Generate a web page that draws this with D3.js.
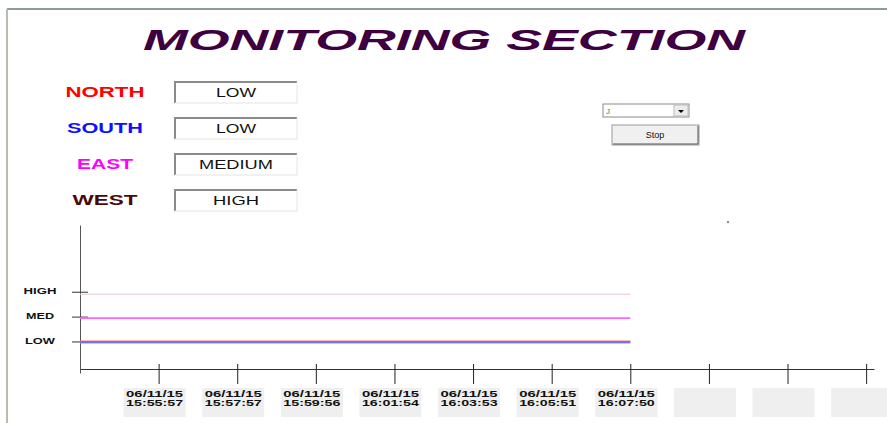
<!DOCTYPE html>
<html>
<head>
<meta charset="utf-8">
<script src="https://cdn.jsdelivr.net/npm/d3@7"></script>
<style>
  body { margin: 0; background: #fff; }
  svg { display: block; font-family: "Liberation Sans", Arial, sans-serif; }
</style>
</head>
<body>
<svg id="chart" width="887" height="423"></svg>
<script>
const title = "MONITORING SECTION"
const zones = ["NORTH", "SOUTH", "EAST", "WEST"]
const zoneColors = ["#ff0000", "#1010ff", "#ff00ff", "#4a0808"]
const lineColors = ["#ff7070", "#7070ff", "#ff66ff", "#e6c6cc"]
const status = ["LOW", "LOW", "MEDIUM", "HIGH"]
const levelNames = ["LOW", "MED", "HIGH"]
const levelValues = [1, 2, 3]
const times = ["06/11/15 15:55:57", "06/11/15 15:57:57", "06/11/15 15:59:56",
    "06/11/15 16:01:54", "06/11/15 16:03:53", "06/11/15 16:05:51", "06/11/15 16:07:50"]
const slotCount = 10
const north = [1, 1, 1, 1, 1, 1, 1]
const south = [1, 1, 1, 1, 1, 1, 1]
const east = [2, 2, 2, 2, 2, 2, 2]
const west = [3, 3, 3, 3, 3, 3, 3]
const series = [north, south, east, west]

const svg = d3.select("#chart")

// window frame
svg.append("line").attr("x1", 7).attr("x2", 887).attr("y1", 9).attr("y2", 9)
    .attr("stroke", "#8c9c98").attr("stroke-width", 2)
svg.append("line").attr("x1", 7).attr("x2", 7).attr("y1", 9).attr("y2", 423)
    .attr("stroke", "#b4bcb0").attr("stroke-width", 2)

svg.append("text")
    .attr("x", 143).attr("y", 50)
    .attr("textLength", 602).attr("lengthAdjust", "spacingAndGlyphs")
    .style("font-size", "30px").style("font-weight", "bold").style("font-style", "italic")
    .attr("fill", "#3e0040")
    .text(title)

// zone labels and status boxes
const rowY = [92, 128, 164, 200]
const labelW = [79, 76, 56, 65]
const statusW = [40, 40, 74, 46]
zones.forEach((z, i) => {
    svg.append("text")
        .attr("x", 105).attr("y", rowY[i]).attr("dy", "0.35em")
        .attr("text-anchor", "middle")
        .attr("textLength", labelW[i]).attr("lengthAdjust", "spacingAndGlyphs")
        .style("font-size", "14px").style("font-weight", "bold")
        .attr("fill", zoneColors[i])
        .text(z)
    const g = svg.append("g").attr("transform", `translate(175, ${rowY[i] - 10})`)
    g.append("rect").attr("width", 122).attr("height", 21).attr("fill", "#fff")
    g.append("path").attr("d", "M0,21V0H122").attr("fill", "none").attr("stroke", "#8a8a8a").attr("stroke-width", 2)
    g.append("path").attr("d", "M0,21H122V0").attr("fill", "none").attr("stroke", "#e4e4e4").attr("stroke-width", 1)
    g.append("text")
        .attr("x", 61).attr("y", 10).attr("dy", "0.38em")
        .attr("text-anchor", "middle")
        .attr("textLength", statusW[i]).attr("lengthAdjust", "spacingAndGlyphs")
        .style("font-size", "12px")
        .attr("fill", "#111")
        .text(status[i])
})

// dropdown and stop button
const dd = svg.append("g").attr("transform", "translate(603, 104)")
dd.append("rect").attr("width", 86).attr("height", 13).attr("fill", "#fff").attr("stroke", "#8a8a8a")
dd.append("rect").attr("x", 71).attr("y", 1).attr("width", 14).attr("height", 11).attr("fill", "#ececec").attr("stroke", "#bbb")
dd.append("path").attr("d", "M75,6H81L78,9Z").attr("fill", "#000")
dd.append("text").attr("x", 3).attr("y", 10).style("font-size", "8px").attr("fill", "#666").text("J")

const btn = svg.append("g").attr("transform", "translate(612, 125)")
btn.append("rect").attr("width", 87).attr("height", 20).attr("fill", "#f0f0f0").attr("stroke", "#9a9a9a")
btn.append("path").attr("d", "M1,19H86V1").attr("fill", "none").attr("stroke", "#555")
btn.append("text").attr("x", 43).attr("y", 10).attr("dy", "0.35em").attr("text-anchor", "middle")
    .style("font-size", "9px").attr("fill", "#111").text("Stop")

svg.append("rect").attr("x", 727).attr("y", 221).attr("width", 2).attr("height", 2).attr("fill", "#888")

// chart
const x = d3.scaleLinear().domain([-1, slotCount - 0.9]).range([80, 874])
const y = d3.scaleLinear().domain([-0.3, 5.9]).range([373, 225])

const xAxis = d3.axisBottom(x)
    .tickValues(d3.range(slotCount))
    .tickFormat("")
    .tickSizeOuter(0)
const gx = svg.append("g")
    .attr("class", "x axis")
    .attr("transform", "translate(0, 369)")
    .call(xAxis)
gx.select(".domain").attr("stroke", "#333")
gx.selectAll(".tick line").attr("y1", -5).attr("y2", 15).attr("stroke", "#222")

const slots = d3.range(slotCount)
const lab = svg.append("g").selectAll("g").data(slots).join("g")
    .attr("transform", d => `translate(${x(d)}, 388)`)
lab.append("rect").attr("x", -35).attr("width", 62).attr("height", 29).attr("fill", "#efefef")
lab.each(function (d) {
    if (d >= times.length) return
    const parts = times[d].split(" ")
    parts.forEach((p, k) => {
        d3.select(this).append("text")
            .attr("x", -4).attr("y", 9 + k * 9)
            .attr("text-anchor", "middle")
            .attr("textLength", 57).attr("lengthAdjust", "spacingAndGlyphs")
            .style("font-size", "9px").style("font-weight", "bold")
            .attr("fill", "#111")
            .text(p)
    })
})

const yAxis = d3.axisLeft(y)
    .tickValues(levelValues)
    .tickFormat((d, i) => levelNames[i])
    .tickSizeOuter(0)
const gy = svg.append("g")
    .attr("class", "y axis")
    .attr("transform", "translate(80, 0)")
    .call(yAxis)
gy.select(".domain").attr("stroke", "#555")
const tickShift = [0, -1, -2]
gy.selectAll(".tick").attr("transform", (d, i) => `translate(0, ${y(d) + tickShift[i]})`)
gy.selectAll(".tick line").attr("x1", -8).attr("x2", 8).attr("stroke", "#333")
const levelW = [30, 28, 33]
gy.selectAll(".tick text")
    .attr("x", -40).attr("text-anchor", "middle").attr("dy", "0.2em")
    .attr("textLength", (d, i) => levelW[i]).attr("lengthAdjust", "spacingAndGlyphs")
    .style("font-size", "9px").style("font-weight", "bold")
    .style("font-family", "Liberation Sans, Arial, sans-serif")
    .attr("fill", "#111")

const line = d3.line()
    .x(d => x(d.i))
    .y(d => y(d.v))
const widths = [3, 2, 1.6, 1.2]
const order = [3, 2, 0, 1]
order.forEach(s => {
    const pts = [{ i: x.domain()[0], v: series[s][0] }]
        .concat(series[s].map((v, i) => ({ i, v })))
    svg.append("path")
        .datum(pts)
        .attr("fill", "none")
        .attr("stroke", lineColors[s])
        .attr("stroke-width", widths[s])
        .attr("d", line)
})
</script>
</body>
</html>
